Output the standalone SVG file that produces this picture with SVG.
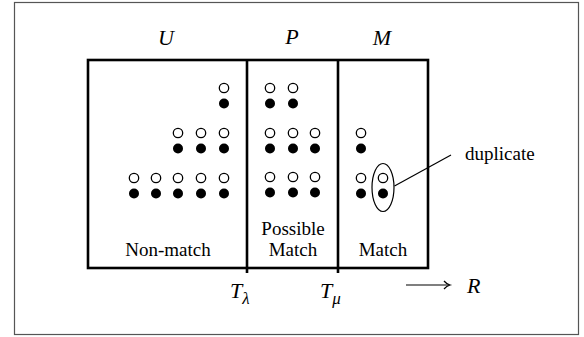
<svg xmlns="http://www.w3.org/2000/svg" width="584" height="337" viewBox="0 0 584 337">
  <style>
    .frame { fill: #ffffff; stroke: #555555; stroke-width: 1.2; }
    .box { fill: none; stroke: #000000; stroke-width: 2.6; }
    .open { fill: #ffffff; stroke: #000000; stroke-width: 1.3; }
    .full { fill: #000000; stroke: none; }
    .label { font-family: "Liberation Serif", "Times New Roman", serif; font-size: 19px; fill: #000000; }
    .math { font-family: "Liberation Serif", "Times New Roman", serif; font-size: 22px; font-style: italic; fill: #000000; }
    .sub { font-size: 17px; }
    .thin { fill: none; stroke: #000000; stroke-width: 1.2; }
  </style>
  <defs>
    <!-- one record pair: open circle above, filled circle below -->
    <g id="pair">
      <circle class="open" cx="0" cy="0" r="4.7"/>
      <circle class="full" cx="0" cy="15.5" r="5"/>
    </g>
  </defs>

  <rect class="frame" x="14.5" y="2.5" width="564" height="332"/>

  <!-- region boxes and thresholds -->
  <g id="regions">
    <rect class="box" x="88" y="60" width="340" height="208"/>
    <line class="box" x1="247" y1="60" x2="247" y2="273"/>
    <line class="box" x1="338" y1="60" x2="338" y2="273"/>
  </g>

  <g id="U">
    <text class="math" x="166" y="45" text-anchor="middle">U</text>
    <use href="#pair" x="224" y="88"/>
    <use href="#pair" x="178" y="133"/>
    <use href="#pair" x="201" y="133"/>
    <use href="#pair" x="224" y="133"/>
    <use href="#pair" x="134" y="178"/>
    <use href="#pair" x="156" y="178"/>
    <use href="#pair" x="178" y="178"/>
    <use href="#pair" x="201" y="178"/>
    <use href="#pair" x="224" y="178"/>
    <text class="label" x="168" y="256" text-anchor="middle">Non-match</text>
  </g>

  <g id="P">
    <text class="math" x="292" y="44" text-anchor="middle">P</text>
    <use href="#pair" x="270" y="88"/>
    <use href="#pair" x="293" y="88"/>
    <use href="#pair" x="270" y="133"/>
    <use href="#pair" x="293" y="133"/>
    <use href="#pair" x="315" y="133"/>
    <use href="#pair" x="270" y="177"/>
    <use href="#pair" x="293" y="177"/>
    <use href="#pair" x="315" y="177"/>
    <text class="label" x="293" y="235" text-anchor="middle">Possible</text>
    <text class="label" x="293" y="256" text-anchor="middle">Match</text>
  </g>

  <g id="M">
    <text class="math" x="382" y="45" text-anchor="middle">M</text>
    <use href="#pair" x="361" y="133"/>
    <use href="#pair" x="361" y="178"/>
    <use href="#pair" x="383" y="178"/>
    <text class="label" x="383" y="256" text-anchor="middle">Match</text>
  </g>

  <g id="duplicate">
    <ellipse class="thin" cx="383" cy="187.5" rx="11" ry="24"/>
    <text class="label" x="465" y="160">duplicate</text>
  </g>

  <g id="connectors">
    <line class="thin" x1="394.5" y1="186" x2="451" y2="155"/>
  </g>

  <g id="thresholds">
    <text class="math" x="230" y="298">T<tspan class="sub" dy="6">λ</tspan></text>
    <text class="math" x="320" y="298">T<tspan class="sub" dy="6">μ</tspan></text>
  </g>

  <g id="axis">
    <line class="thin" x1="406" y1="285" x2="449" y2="285"/>
    <path class="thin" d="M444 281 Q446.5 284 450 285 Q446.5 286 444 289"/>
    <text class="math" x="467" y="293">R</text>
  </g>
</svg>
